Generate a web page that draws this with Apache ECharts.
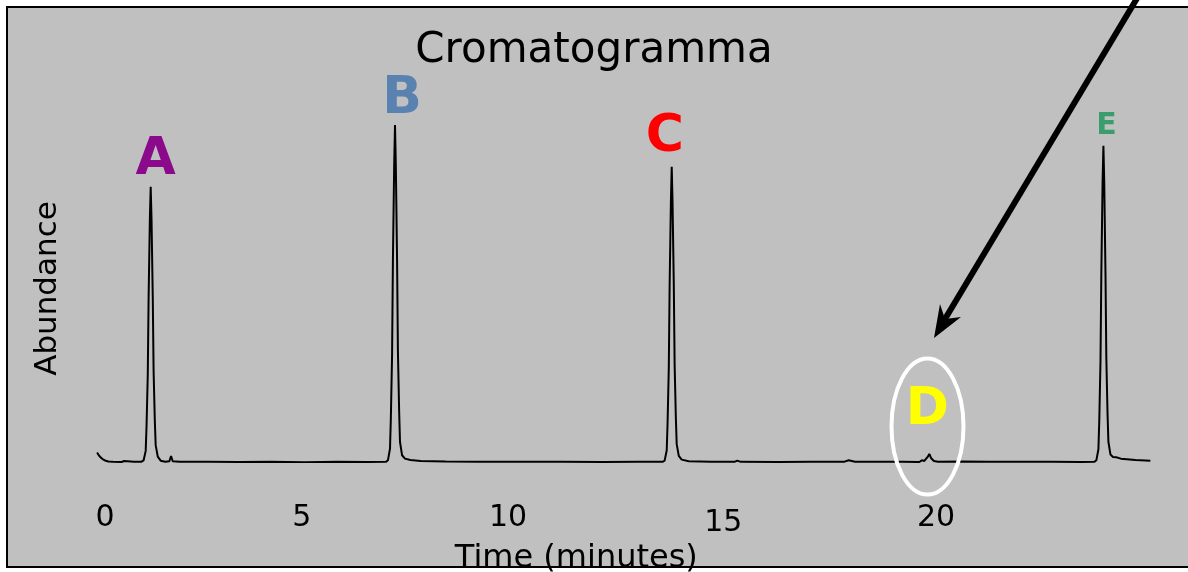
<!DOCTYPE html>
<html>
<head>
<meta charset="utf-8">
<script src="https://cdn.jsdelivr.net/npm/echarts@6/dist/echarts.min.js"></script>
<style>
  html, body { margin: 0; padding: 0; background: #fff; }
  #chart { width: 1188px; height: 572px; }
</style>
</head>
<body>
<div id="chart"></div>
<script>
// trace: time (minutes) and abundance (B peak = 100)
var traceTimes = [
  -0.19, -0.15, -0.10, -0.05, 0.00, 0.08, 0.19, 0.40, 0.46, 0.50, 0.70, 0.88,
  0.93, 0.98, 1.00, 1.03, 1.05, 1.08, 1.10, 1.12, 1.15, 1.17, 1.20, 1.22, 1.27, 1.34,
  1.45, 1.55, 1.59, 1.63, 1.80, 2.5, 3.2, 4.0, 4.8, 5.6, 6.3, 6.76,
  6.81, 6.86, 6.88, 6.91, 6.93, 6.96, 6.98, 7.00, 7.03, 7.05, 7.08, 7.10, 7.15, 7.22,
  7.35, 7.6, 8.2, 9.0, 10.0, 11.0, 12.0, 12.8, 13.42,
  13.47, 13.52, 13.54, 13.57, 13.59, 13.62, 13.64, 13.66, 13.69, 13.71, 13.74, 13.76, 13.81,
  13.88, 14.05, 14.6, 15.15, 15.22, 15.3, 16.2, 17.0, 17.8, 17.9, 18.05, 18.6, 19.2, 19.6,
  19.66, 19.72, 19.80, 19.84, 19.88, 19.95, 20.05, 20.6, 21.3, 22.0, 22.8, 23.5, 23.81,
  23.86, 23.91, 23.93, 23.96, 23.98, 24.01, 24.03, 24.05, 24.08, 24.10, 24.13, 24.15, 24.20,
  24.26, 24.34, 24.38, 24.45, 24.8, 25.16
];
var traceAbundance = [
  2.8, 2.0, 1.3, 0.8, 0.45, 0.15, 0.05, 0.0, 0.3, 0.0, 0.05, 0.1,
  0.5, 3.3, 10.6, 26, 49, 72, 81.7, 72, 49, 27, 12, 5, 1.6, 0.4,
  0.1, 0.2, 1.8, 0.2, 0.05, 0.1, 0.0, 0.1, -0.05, 0.05, 0.0, 0.05,
  0.5, 4, 13, 32, 60, 88, 100, 88, 60, 33, 15, 6, 2, 1.0,
  0.6, 0.3, 0.15, 0.1, 0.05, 0.1, 0.0, 0.1, 0.05,
  0.4, 3.5, 11.4, 28, 52.6, 77, 87.6, 77, 52.6, 29, 13, 5.3, 1.8,
  0.7, 0.2, 0.05, 0.05, 0.4, 0.05, 0.0, 0.05, 0.1, 0.5, 0.1, 0.1, 0.05, 0.0,
  0.5, 0.3, 1.5, 2.4, 1.2, 0.3, 0.05, 0.15, 0.05, 0.1, 0.05, 0.0, 0.05,
  0.5, 3.8, 12, 30, 56, 83, 93.8, 83, 56, 31, 14, 6, 2.2,
  1.5, 1.4, 1.7, 1.0, 0.6, 0.4
];

var peakNames = ['A', 'B', 'C', 'D', 'E'];
var peakTimes = [1.10, 6.98, 13.64, 19.84, 24.03];
var peakHeights = [81.7, 100, 87.6, 2.4, 93.8];

var xTicks = [0, 5, 10, 15, 20];

// label looks
var peakColors = ['#8b0a8b', '#5a82b0', '#ff0000', '#ffff00', '#3a9d6c'];
var peakFontSizes = [52, 52, 52, 52, 30];
var peakOffsets = [[5, -26], [7, -26], [-7, -29], [-2, -43], [3, -20]];

var FONT = 'DejaVu Sans';

var chart = echarts.init(document.getElementById('chart'));

var trace = traceTimes.map(function (t, i) { return [t, traceAbundance[i]]; });

var peakData = peakNames.map(function (n, i) {
  return {
    name: n,
    value: [peakTimes[i], peakHeights[i]],
    label: {
      show: true,
      formatter: n,
      position: 'inside',
      offset: peakOffsets[i],
      color: peakColors[i],
      fontSize: peakFontSizes[i],
      fontWeight: 'bold',
      fontFamily: FONT
    }
  };
});

// hand-placed tick labels in the original, nudge them a bit
var tickRich = {
  l0: { fontSize: 30, fontFamily: FONT, color: '#000' },
  l5: { fontSize: 30, fontFamily: FONT, color: '#000', padding: [0, 22, 0, 0] },
  l10: { fontSize: 30, fontFamily: FONT, color: '#000', padding: [0, 25, 3, 0] },
  l15: { fontSize: 30, fontFamily: FONT, color: '#000', padding: [5, 10, 0, 0] },
  l20: { fontSize: 30, fontFamily: FONT, color: '#000' }
};

var option = {
  backgroundColor: '#fff',
  animation: false,
  title: {
    text: 'Cromatogramma',
    left: 'center',
    top: 25,
    textStyle: { fontSize: 42, fontWeight: 'normal', fontFamily: FONT, color: '#000' }
  },
  grid: { left: 94.6, right: 33.9, top: 125, bottom: 110, outerBoundsMode: 'none' },
  xAxis: {
    type: 'value',
    min: -0.25,
    max: 25.25,
    name: 'Time (minutes)',
    nameLocation: 'middle',
    nameGap: 70,
    nameTextStyle: { fontSize: 32, fontFamily: FONT, color: '#000', padding: [0, 96, 0, 0] },
    axisLine: { show: false },
    axisTick: { show: false },
    splitLine: { show: false },
    axisLabel: {
      margin: 41,
      customValues: xTicks,
      formatter: function (v) {
        return '{l' + v + '|' + v + '}';
      },
      rich: tickRich
    }
  },
  yAxis: {
    type: 'value',
    min: 0,
    max: 100,
    name: 'Abundance',
    nameLocation: 'middle',
    nameRotate: 90,
    nameGap: 31,
    nameTextStyle: { fontSize: 31, fontFamily: FONT, color: '#000', padding: [0, 0, 0, 10] },
    axisLine: { show: false },
    axisTick: { show: false },
    axisLabel: { show: false },
    splitLine: { show: false }
  },
  graphic: [
    { type: 'rect', z: -10, shape: { x: 7, y: 7, width: 1200, height: 560 },
      style: { fill: '#c0c0c0', stroke: '#000', lineWidth: 2 } },
    { type: 'ellipse', z: 10, shape: { cx: 927.5, cy: 426.5, rx: 36, ry: 68 },
      style: { fill: null, stroke: '#fff', lineWidth: 4 } },
    { type: 'line', z: 10, shape: { x1: 1139, y1: -5, x2: 945, y2: 319 },
      style: { stroke: '#000', lineWidth: 6 } },
    { type: 'polygon', z: 10, shape: { points: [[934, 338], [961, 317], [945, 319], [940, 304]] },
      style: { fill: '#000' } }
  ],
  series: [
    {
      type: 'line',
      data: trace,
      showSymbol: false,
      symbol: 'none',
      lineStyle: { color: '#000', width: 2 },
      z: 3
    },
    {
      type: 'scatter',
      data: peakData,
      symbolSize: 1,
      itemStyle: { color: 'rgba(0,0,0,0)', opacity: 1 },
      z: 4
    }
  ]
};

chart.setOption(option);
</script>
</body>
</html>
